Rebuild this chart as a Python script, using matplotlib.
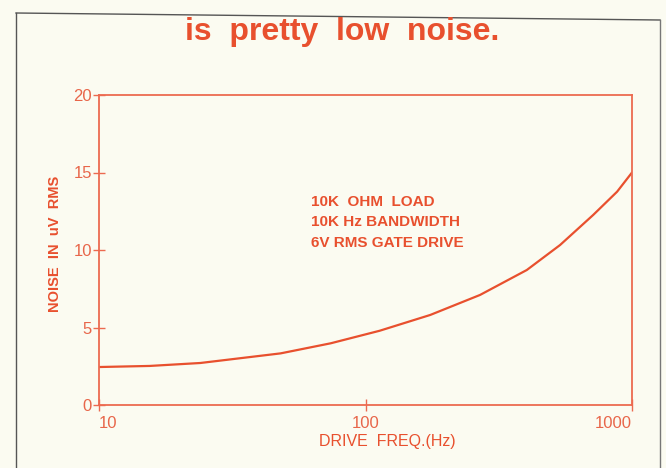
import matplotlib
matplotlib.use("Agg")
import matplotlib.pyplot as plt
from matplotlib.lines import Line2D

# Noise vs drive frequency
freq_hz = [10, 15.5, 24, 48, 74, 113, 175, 269, 403, 537, 715, 879, 1000]
noise_uv = [2.45, 2.52, 2.71, 3.33, 3.98, 4.79, 5.81, 7.10, 8.71, 10.32,
            12.26, 13.76, 15.0]

y_ticks = [0, 5, 10, 15, 20]
x_ticks = [10, 100, 1000]
x_tick_labels = ["10", "100", "1000"]

title = "is  pretty  low  noise."
note_lines = ["10K  OHM  LOAD", "10K Hz BANDWIDTH", "6V RMS GATE DRIVE"]

RED = "#e8502e"
TICKRED = "#e8664a"
FRAME = "#ec6a50"
BG = "#fbfbf1"
FONT = ["Liberation Sans", "DejaVu Sans"]

W, H = 666, 468
fig = plt.figure(figsize=(W / 100, H / 100), dpi=100, facecolor=BG)
ax = fig.add_axes([99 / W, 1 - 405 / H, (632 - 99) / W, (405 - 95) / H])
ax.set_facecolor(BG)

ax.plot(freq_hz, noise_uv, color=RED, lw=1.6, solid_capstyle="round",
        solid_joinstyle="round")
ax.set_xscale("log")
ax.set_xlim(10, 1000)
ax.set_ylim(0, 20)

ax.set_xticks(x_ticks)
ax.set_xticklabels(x_tick_labels)
ax.xaxis.set_minor_locator(matplotlib.ticker.NullLocator())
ax.set_yticks(y_ticks)
ax.tick_params(axis="both", direction="inout", length=8, width=1.0,
               color=FRAME, labelcolor=TICKRED, labelsize=12)
ax.tick_params(axis="x", pad=4)
ax.tick_params(axis="y", pad=1)
for lbl in ax.get_xticklabels() + ax.get_yticklabels():
    lbl.set_family(FONT)
xl = ax.get_xticklabels()
xl[0].set_horizontalalignment("left")
xl[-1].set_horizontalalignment("right")

for sp in ax.spines.values():
    sp.set_color(FRAME)
    sp.set_linewidth(1.3)

ax.set_xlabel("DRIVE  FREQ.(Hz)", color=RED, fontsize=11.5, family=FONT)
ax.xaxis.set_label_coords(0.54, -0.095)
ax.set_ylabel("NOISE  IN  uV  RMS", color=RED, fontsize=10.5, family=FONT,
              fontweight="bold")
ax.yaxis.set_label_coords(-0.069, 0.52)

for i, line in enumerate(note_lines):
    ax.text(0.397, 0.655 - i * 0.066, line, transform=ax.transAxes,
            color=RED, fontsize=11, family=FONT, fontweight="bold",
            va="center", ha="left")

fig.text(342 / W, 1 - 32 / H, title, color=RED, fontsize=23,
         fontweight="bold", family=FONT, ha="center", va="center")

# scanned page border
fig.add_artist(Line2D([16 / W, 660 / W], [1 - 13 / H, 1 - 20 / H],
                      transform=fig.transFigure, color="#555555", lw=1.0))
fig.add_artist(Line2D([16 / W, 16 / W], [1 - 13 / H, 0],
                      transform=fig.transFigure, color="#555555", lw=1.0))
fig.add_artist(Line2D([660 / W, 660 / W], [1 - 20 / H, 0],
                      transform=fig.transFigure, color="#777777", lw=1.0))

fig.savefig("out.png", dpi=100, facecolor=BG)
